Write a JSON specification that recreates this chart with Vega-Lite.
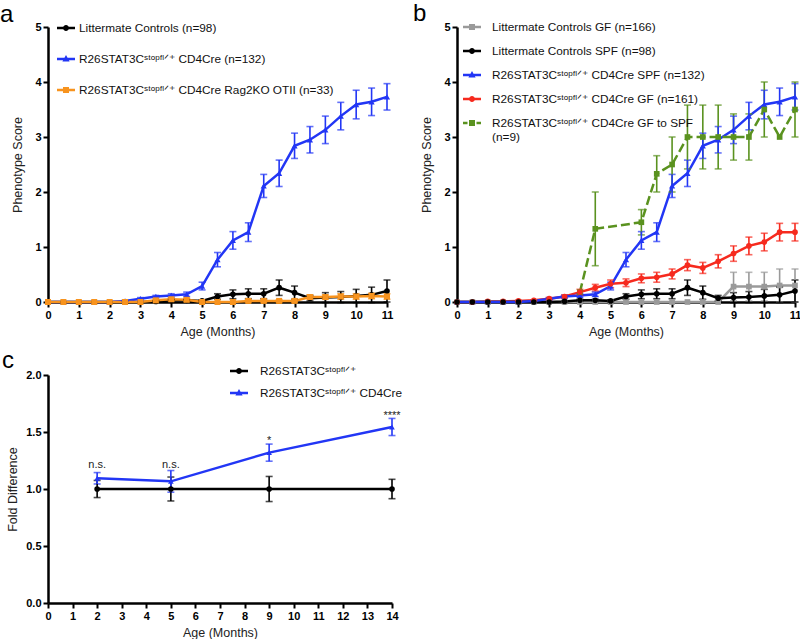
{
  "$schema": "https://vega.github.io/schema/vega-lite/v6.json",
  "padding": {"left": 0, "top": 2, "right": 0, "bottom": 0},
  "config": {
    "font": "Liberation Sans",
    "view": {"stroke": null},
    "axis": {"domainColor": "#000", "domainWidth": 2.5, "tickColor": "#000", "tickWidth": 2, "tickSize": 5, "labelFont": "Liberation Sans", "labelFontWeight": "bold", "labelFontSize": 11, "labelColor": "#000", "labelPadding": 2, "labelFlush": false, "titleFont": "Liberation Sans", "titleFontWeight": "normal", "titleFontSize": 12.5, "titleColor": "#222", "grid": false},
    "legend": {"labelFont": "Liberation Sans", "labelFontSize": 11.8, "labelColor": "#111", "symbolStrokeWidth": 0, "symbolOpacity": 1, "padding": 0, "labelLimit": 400}
  },
  "datasets": {
    "d": [
      {"s":"RD","x":0,"y":0,"e":0},{"s":"RD","x":0.5,"y":0,"e":0},{"s":"RD","x":1,"y":0.01,"e":0},{"s":"RD","x":1.5,"y":0.01,"e":0},{"s":"RD","x":2,"y":0.02,"e":0.01},{"s":"RD","x":2.5,"y":0.03,"e":0.01},{"s":"RD","x":3,"y":0.06,"e":0.02},{"s":"RD","x":3.5,"y":0.1,"e":0.03},{"s":"RD","x":4,"y":0.18,"e":0.05},{"s":"RD","x":4.5,"y":0.26,"e":0.06},{"s":"RD","x":5,"y":0.33,"e":0.07},{"s":"RD","x":5.5,"y":0.35,"e":0.07},{"s":"RD","x":6,"y":0.43,"e":0.08},{"s":"RD","x":6.5,"y":0.45,"e":0.09},{"s":"RD","x":7,"y":0.51,"e":0.09},{"s":"RD","x":7.5,"y":0.67,"e":0.1},{"s":"RD","x":8,"y":0.62,"e":0.1},{"s":"RD","x":8.5,"y":0.74,"e":0.12},{"s":"RD","x":9,"y":0.88,"e":0.14},{"s":"RD","x":9.5,"y":1.02,"e":0.16},{"s":"RD","x":10,"y":1.09,"e":0.16},{"s":"RD","x":10.5,"y":1.27,"e":0.16},{"s":"RD","x":11,"y":1.27,"e":0.16},
      {"s":"GF","x":0,"y":0,"e":0},{"s":"GF","x":0.5,"y":0,"e":0},{"s":"GF","x":1,"y":0,"e":0},{"s":"GF","x":1.5,"y":0,"e":0},{"s":"GF","x":2,"y":0,"e":0},{"s":"GF","x":2.5,"y":0,"e":0},{"s":"GF","x":3,"y":0,"e":0},{"s":"GF","x":3.5,"y":0,"e":0},{"s":"GF","x":4,"y":0,"e":0},{"s":"GF","x":4.5,"y":0,"e":0},{"s":"GF","x":5,"y":0,"e":0},{"s":"GF","x":5.5,"y":0,"e":0},{"s":"GF","x":6,"y":0,"e":0},{"s":"GF","x":6.5,"y":0,"e":0},{"s":"GF","x":7,"y":0,"e":0},{"s":"GF","x":7.5,"y":0,"e":0},{"s":"GF","x":8,"y":0,"e":0},{"s":"GF","x":8.5,"y":0,"e":0},{"s":"GF","x":9,"y":0.28,"e":0.26},{"s":"GF","x":9.5,"y":0.28,"e":0.26},{"s":"GF","x":10,"y":0.28,"e":0.26},{"s":"GF","x":10.5,"y":0.3,"e":0.3},{"s":"GF","x":11,"y":0.3,"e":0.3},
      {"s":"GR","x":4,"y":0.18,"e":0},{"s":"GR","x":4.5,"y":1.33,"e":0.67},{"s":"GR","x":6,"y":1.45,"e":0.23},{"s":"GR","x":6.5,"y":2.33,"e":0.33},{"s":"GR","x":7,"y":2.5,"e":0.5},{"s":"GR","x":7.5,"y":3,"e":0.58},{"s":"GR","x":8,"y":3,"e":0.58},{"s":"GR","x":8.5,"y":3,"e":0.58},{"s":"GR","x":9,"y":3,"e":0.42},{"s":"GR","x":9.5,"y":3,"e":0.42},{"s":"GR","x":10,"y":3.5,"e":0.5},{"s":"GR","x":10.5,"y":3,"e":0},{"s":"GR","x":11,"y":3.5,"e":0.5},
      {"s":"LC","x":0,"y":0,"e":0},{"s":"LC","x":0.5,"y":0,"e":0},{"s":"LC","x":1,"y":0,"e":0},{"s":"LC","x":1.5,"y":0,"e":0},{"s":"LC","x":2,"y":0,"e":0},{"s":"LC","x":2.5,"y":0,"e":0},{"s":"LC","x":3,"y":0,"e":0},{"s":"LC","x":3.5,"y":0.01,"e":0.01},{"s":"LC","x":4,"y":0.03,"e":0.02},{"s":"LC","x":4.5,"y":0.03,"e":0.02},{"s":"LC","x":5,"y":0.02,"e":0.02},{"s":"LC","x":5.5,"y":0.1,"e":0.05},{"s":"LC","x":6,"y":0.14,"e":0.08},{"s":"LC","x":6.5,"y":0.15,"e":0.09},{"s":"LC","x":7,"y":0.15,"e":0.09},{"s":"LC","x":7.5,"y":0.26,"e":0.14},{"s":"LC","x":8,"y":0.17,"e":0.12},{"s":"LC","x":8.5,"y":0.07,"e":0.05},{"s":"LC","x":9,"y":0.08,"e":0.09},{"s":"LC","x":9.5,"y":0.09,"e":0.1},{"s":"LC","x":10,"y":0.11,"e":0.12},{"s":"LC","x":10.5,"y":0.13,"e":0.14},{"s":"LC","x":11,"y":0.2,"e":0.2},
      {"s":"ST","x":0,"y":0,"e":0},{"s":"ST","x":0.5,"y":0,"e":0},{"s":"ST","x":1,"y":0,"e":0},{"s":"ST","x":1.5,"y":0,"e":0},{"s":"ST","x":2,"y":0,"e":0},{"s":"ST","x":2.5,"y":0.02,"e":0.01},{"s":"ST","x":3,"y":0.06,"e":0.02},{"s":"ST","x":3.5,"y":0.1,"e":0.02},{"s":"ST","x":4,"y":0.12,"e":0.03},{"s":"ST","x":4.5,"y":0.14,"e":0.04},{"s":"ST","x":5,"y":0.29,"e":0.07},{"s":"ST","x":5.5,"y":0.77,"e":0.13},{"s":"ST","x":6,"y":1.12,"e":0.16},{"s":"ST","x":6.5,"y":1.27,"e":0.17},{"s":"ST","x":7,"y":2.11,"e":0.21},{"s":"ST","x":7.5,"y":2.34,"e":0.24},{"s":"ST","x":8,"y":2.84,"e":0.23},{"s":"ST","x":8.5,"y":2.95,"e":0.24},{"s":"ST","x":9,"y":3.13,"e":0.25},{"s":"ST","x":9.5,"y":3.38,"e":0.25},{"s":"ST","x":10,"y":3.59,"e":0.26},{"s":"ST","x":10.5,"y":3.64,"e":0.25},{"s":"ST","x":11,"y":3.73,"e":0.24},
      {"s":"RG","x":0,"y":0,"e":0},{"s":"RG","x":0.5,"y":0,"e":0},{"s":"RG","x":1,"y":0,"e":0},{"s":"RG","x":1.5,"y":0,"e":0},{"s":"RG","x":2,"y":0,"e":0},{"s":"RG","x":2.5,"y":0,"e":0},{"s":"RG","x":3,"y":0,"e":0},{"s":"RG","x":3.5,"y":0.03,"e":0.02},{"s":"RG","x":4,"y":0.05,"e":0.03},{"s":"RG","x":4.5,"y":0.04,"e":0.03},{"s":"RG","x":5,"y":0,"e":0},{"s":"RG","x":5.5,"y":0,"e":0},{"s":"RG","x":6,"y":0,"e":0},{"s":"RG","x":6.5,"y":0.02,"e":0.02},{"s":"RG","x":7,"y":0.02,"e":0.02},{"s":"RG","x":7.5,"y":0.02,"e":0.02},{"s":"RG","x":8,"y":0.02,"e":0.02},{"s":"RG","x":8.5,"y":0.09,"e":0.04},{"s":"RG","x":9,"y":0.09,"e":0.04},{"s":"RG","x":9.5,"y":0.1,"e":0.05},{"s":"RG","x":10,"y":0.1,"e":0.05},{"s":"RG","x":10.5,"y":0.11,"e":0.05},{"s":"RG","x":11,"y":0.1,"e":0.05},
      {"s":"C0","x":2,"y":1,"e":0.075},{"s":"C0","x":5,"y":1,"e":0.105},{"s":"C0","x":9,"y":1,"e":0.11},{"s":"C0","x":14,"y":1,"e":0.085},
      {"s":"C1","x":2,"y":1.094,"e":0.05},{"s":"C1","x":5,"y":1.067,"e":0.095},{"s":"C1","x":9,"y":1.319,"e":0.075},{"s":"C1","x":14,"y":1.544,"e":0.075},
      {"s":"AN","x":2,"y":1.21,"t":"n.s."},{"s":"AN","x":5,"y":1.21,"t":"n.s."},{"s":"AN","x":9,"y":1.42,"t":"*"},{"s":"AN","x":14,"y":1.64,"t":"****"}
    ]
  },
  "data": {"name": "d"},
  "spacing": 11,
  "resolve": {"scale": {"color": "independent", "shape": "independent"}, "legend": {"color": "independent", "shape": "independent"}},
  "vconcat": [
    {
      "bounds": "flush",
      "spacing": 70,
      "resolve": {"scale": {"color": "independent", "shape": "independent"}, "legend": {"color": "independent", "shape": "independent"}},
      "hconcat": [
        {
          "width": 339, "height": 275,
          "title": {"text": "a", "anchor": "start", "frame": "group", "dx": -48, "fontSize": 24, "fontWeight": "normal", "offset": -9, "font": "Liberation Sans", "color": "#000"},
          "transform": [{"filter": {"field": "s", "oneOf": ["LC", "ST", "RG"]}}],
          "encoding": {
            "x": {"field": "x", "type": "quantitative", "scale": {"domain": [0, 11], "nice": false}, "axis": {"values": [0,1,2,3,4,5,6,7,8,9,10,11], "title": "Age (Months)", "titlePadding": 5}},
            "y": {"field": "y", "type": "quantitative", "scale": {"domain": [0, 5], "nice": false}, "axis": {"values": [0,1,2,3,4,5], "title": "Phenotype Score", "titlePadding": 10}}
          },
          "layer": [
            {"mark": {"type": "point", "filled": true, "opacity": 0},
             "encoding": {
               "color": {"field": "s", "type": "nominal", "scale": {"domain": ["LC", "ST", "RG"], "range": ["#000000", "#2236f5", "#f7931e"]},
                 "legend": {"disable": false, "orient": "none", "legendX": 8, "legendY": -9, "title": null, "symbolSize": 400, "symbolOpacity": 1, "rowPadding": 14, "labelOffset": 3,
                   "labelExpr": "datum.value == 'LC' ? 'Littermate Controls (n=98)' : datum.value == 'ST' ? 'R26STAT3Cˢᵗᵒᵖᶠˡᐟ⁺ CD4Cre (n=132)' : 'R26STAT3Cˢᵗᵒᵖᶠˡᐟ⁺ CD4Cre Rag2KO OTII (n=33)'"}},
               "shape": {"field": "s", "type": "nominal", "scale": {"domain": ["LC", "ST", "RG"], "range": [
                 "M-0.9,-0.12H0.9V0.12H-0.9Z M0.3,0A0.3,0.3 0 1,1 -0.3,0A0.3,0.3 0 1,1 0.3,0Z",
                 "M-0.9,-0.12H0.9V0.12H-0.9Z M0,-0.4L0.36,0.25L-0.36,0.25Z",
                 "M-0.9,-0.12H0.9V0.12H-0.9Z M-0.3,-0.3H0.3V0.3H-0.3Z"]}, "legend": {"disable": false}}
             }},
            {"mark": {"type": "line", "strokeWidth": 2.5},
             "encoding": {"color": {"field": "s", "type": "nominal"}}},
            {"transform": [{"filter": "datum.e > 0"}], "mark": {"type": "errorbar", "ticks": {"size": 7, "thickness": 1.6}, "rule": {"strokeWidth": 1.6}},
             "encoding": {"yError": {"field": "e"}, "color": {"field": "s", "type": "nominal"}}},
            {"transform": [{"filter": "datum.s == 'ST'"}], "mark": {"type": "point", "shape": "triangle-up", "filled": true, "size": 38, "opacity": 1},
             "encoding": {"color": {"field": "s", "type": "nominal"}}},
            {"transform": [{"filter": "datum.s == 'LC'"}], "mark": {"type": "point", "shape": "circle", "filled": true, "size": 32, "opacity": 1},
             "encoding": {"color": {"field": "s", "type": "nominal"}}},
            {"transform": [{"filter": "datum.s == 'RG'"}], "mark": {"type": "point", "shape": "square", "filled": true, "size": 36, "opacity": 1},
             "encoding": {"color": {"field": "s", "type": "nominal"}}}
          ]
        },
        {
          "width": 338, "height": 275,
          "title": {"text": "b", "anchor": "start", "frame": "group", "dx": -44, "fontSize": 24, "fontWeight": "normal", "offset": -9, "font": "Liberation Sans", "color": "#000"},
          "transform": [{"filter": {"field": "s", "oneOf": ["GF", "LC", "ST", "RD", "GR"]}}],
          "encoding": {
            "x": {"field": "x", "type": "quantitative", "scale": {"domain": [0, 11], "nice": false}, "axis": {"values": [0,1,2,3,4,5,6,7,8,9,10,11], "title": "Age (Months)", "titlePadding": 5}},
            "y": {"field": "y", "type": "quantitative", "scale": {"domain": [0, 5], "nice": false}, "axis": {"values": [0,1,2,3,4,5], "title": "Phenotype Score", "titlePadding": 10}}
          },
          "layer": [
            {"mark": {"type": "point", "filled": true, "opacity": 0},
             "encoding": {
               "color": {"field": "s", "type": "nominal", "scale": {"domain": ["GF", "LC", "ST", "RD", "GR"], "range": ["#9a9a9a", "#000000", "#2236f5", "#f62a1e", "#5a921f"]},
                 "legend": {"disable": false, "orient": "none", "legendX": 5, "legendY": -10, "title": null, "symbolSize": 400, "symbolOpacity": 1, "rowPadding": 7, "labelOffset": 10,
                   "labelExpr": "datum.value == 'GF' ? 'Littermate Controls GF (n=166)' : datum.value == 'LC' ? 'Littermate Controls SPF (n=98)' : datum.value == 'ST' ? 'R26STAT3Cˢᵗᵒᵖᶠˡᐟ⁺ CD4Cre SPF (n=132)' : datum.value == 'RD' ? 'R26STAT3Cˢᵗᵒᵖᶠˡᐟ⁺ CD4Cre GF (n=161)' : ['R26STAT3Cˢᵗᵒᵖᶠˡᐟ⁺ CD4Cre GF to SPF', '(n=9)']"}},
               "shape": {"field": "s", "type": "nominal", "scale": {"domain": ["GF", "LC", "ST", "RD", "GR"], "range": [
                 "M-0.9,-0.12H0.9V0.12H-0.9Z M-0.3,-0.3H0.3V0.3H-0.3Z",
                 "M-0.9,-0.12H0.9V0.12H-0.9Z M0.3,0A0.3,0.3 0 1,1 -0.3,0A0.3,0.3 0 1,1 0.3,0Z",
                 "M-0.9,-0.12H0.9V0.12H-0.9Z M0,-0.4L0.36,0.25L-0.36,0.25Z",
                 "M-0.9,-0.12H0.9V0.12H-0.9Z M0.3,0A0.3,0.3 0 1,1 -0.3,0A0.3,0.3 0 1,1 0.3,0Z",
                 "M-0.9,-0.12H-0.45V0.12H-0.9Z M0.45,-0.12H0.9V0.12H0.45Z M-0.3,-0.3H0.3V0.3H-0.3Z"]}, "legend": {"disable": false}}
             }},
            {"transform": [{"filter": "datum.s != 'GR'"}], "mark": {"type": "line", "strokeWidth": 2.5},
             "encoding": {"color": {"field": "s", "type": "nominal"}}},
            {"transform": [{"filter": "datum.s == 'GR'"}], "mark": {"type": "line", "strokeWidth": 2.5, "strokeDash": [9, 4]},
             "encoding": {"color": {"field": "s", "type": "nominal"}}},
            {"transform": [{"filter": "datum.e > 0"}], "mark": {"type": "errorbar", "ticks": {"size": 7, "thickness": 1.6}, "rule": {"strokeWidth": 1.6}},
             "encoding": {"yError": {"field": "e"}, "color": {"field": "s", "type": "nominal"}}},
            {"transform": [{"filter": "datum.s == 'ST'"}], "mark": {"type": "point", "shape": "triangle-up", "filled": true, "size": 38, "opacity": 1},
             "encoding": {"color": {"field": "s", "type": "nominal"}}},
            {"transform": [{"filter": "datum.s == 'GF' || datum.s == 'GR'"}], "mark": {"type": "point", "shape": "square", "filled": true, "size": 32, "opacity": 1},
             "encoding": {"color": {"field": "s", "type": "nominal"}}},
            {"transform": [{"filter": "datum.s == 'RD' || datum.s == 'LC'"}], "mark": {"type": "point", "shape": "circle", "filled": true, "size": 32, "opacity": 1},
             "encoding": {"color": {"field": "s", "type": "nominal"}}}
          ]
        }
      ]
    },
    {
      "width": 344, "height": 228,
      "title": {"text": "c", "anchor": "start", "frame": "group", "dx": -46, "fontSize": 24, "fontWeight": "normal", "offset": -12, "font": "Liberation Sans", "color": "#000"},
      "transform": [{"filter": {"field": "s", "oneOf": ["C0", "C1", "AN"]}}],
      "encoding": {
        "x": {"field": "x", "type": "quantitative", "scale": {"domain": [0, 14], "nice": false}, "axis": {"values": [0,1,2,3,4,5,6,7,8,9,10,11,12,13,14], "title": "Age (Months)", "titlePadding": 5}},
        "y": {"field": "y", "type": "quantitative", "scale": {"domain": [0, 2], "nice": false}, "axis": {"values": [0,0.5,1,1.5,2], "format": ".1f", "title": "Fold Difference", "titlePadding": 6}}
      },
      "layer": [
        {"transform": [{"filter": "datum.s != 'AN'"}], "mark": {"type": "point", "filled": true, "opacity": 0},
         "encoding": {
           "color": {"field": "s", "type": "nominal", "scale": {"domain": ["C0", "C1"], "range": ["#000000", "#2236f5"]},
             "legend": {"disable": false, "orient": "none", "legendX": 181, "legendY": -14, "title": null, "symbolSize": 400, "symbolOpacity": 1, "rowPadding": 5, "labelOffset": 11,
               "labelExpr": "datum.value == 'C0' ? 'R26STAT3Cˢᵗᵒᵖᶠˡᐟ⁺' : 'R26STAT3Cˢᵗᵒᵖᶠˡᐟ⁺ CD4Cre'"}},
           "shape": {"field": "s", "type": "nominal", "scale": {"domain": ["C0", "C1"], "range": [
             "M-0.9,-0.12H0.9V0.12H-0.9Z M0.3,0A0.3,0.3 0 1,1 -0.3,0A0.3,0.3 0 1,1 0.3,0Z",
             "M-0.9,-0.12H0.9V0.12H-0.9Z M0,-0.4L0.36,0.25L-0.36,0.25Z"]}, "legend": {"disable": false}}
         }},
        {"transform": [{"filter": "datum.s != 'AN'"}], "mark": {"type": "line", "strokeWidth": 2.5},
         "encoding": {"color": {"field": "s", "type": "nominal"}}},
        {"transform": [{"filter": "datum.s != 'AN'"}], "mark": {"type": "errorbar", "ticks": {"size": 7, "thickness": 1.6}, "rule": {"strokeWidth": 1.6}},
         "encoding": {"yError": {"field": "e"}, "color": {"field": "s", "type": "nominal"}}},
        {"transform": [{"filter": "datum.s == 'C0'"}], "mark": {"type": "point", "shape": "circle", "filled": true, "size": 32, "opacity": 1},
         "encoding": {"color": {"field": "s", "type": "nominal"}}},
        {"transform": [{"filter": "datum.s == 'C1'"}], "mark": {"type": "point", "shape": "triangle-up", "filled": true, "size": 32, "opacity": 1},
         "encoding": {"color": {"field": "s", "type": "nominal"}}},
        {"transform": [{"filter": "datum.s == 'AN'"}], "mark": {"type": "text", "fontSize": 11, "font": "Liberation Sans", "color": "#222", "baseline": "middle"},
         "encoding": {"text": {"field": "t"}}}
      ]
    }
  ]
}
